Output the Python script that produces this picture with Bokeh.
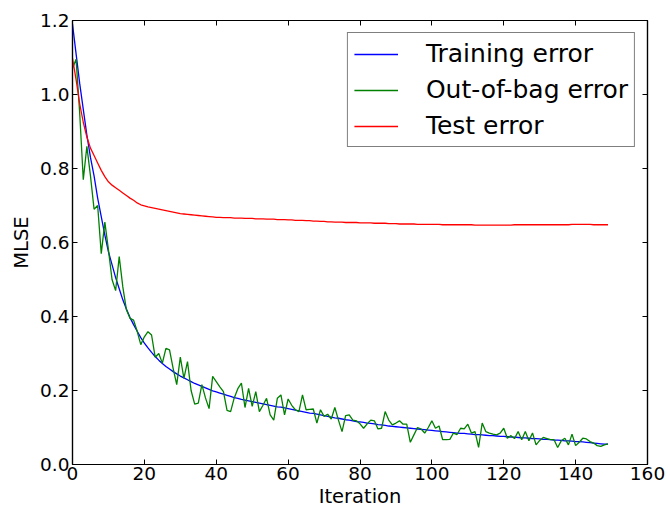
from bokeh.plotting import figure
from bokeh.models import LinearAxis, FixedTicker, Legend, LegendItem, CustomJSTickFormatter
from bokeh.embed import file_html
from bokeh.resources import INLINE

iterations = list(range(150))

training_error = [
    1.19, 1.11, 1.03, 0.96, 0.89, 0.83, 0.78, 0.72, 0.67, 0.62,
    0.575, 0.54, 0.505, 0.475, 0.445, 0.42, 0.397, 0.378, 0.36, 0.343,
    0.328, 0.315, 0.303, 0.292, 0.282, 0.273, 0.265, 0.258, 0.251, 0.245,
    0.239, 0.234, 0.229, 0.224, 0.219, 0.215, 0.211, 0.207, 0.203, 0.199,
    0.196, 0.193, 0.190, 0.187, 0.184, 0.181, 0.179, 0.176, 0.174, 0.172,
    0.170, 0.168, 0.166, 0.164, 0.162, 0.160, 0.158, 0.156, 0.155, 0.153,
    0.151, 0.149, 0.147, 0.145, 0.143, 0.141, 0.139, 0.138, 0.136, 0.134,
    0.132, 0.130, 0.128, 0.126, 0.125, 0.123, 0.121, 0.120, 0.118, 0.116,
    0.115, 0.114, 0.112, 0.111, 0.110, 0.108, 0.107, 0.106, 0.104, 0.103,
    0.102, 0.101, 0.100, 0.099, 0.098, 0.097, 0.096, 0.095, 0.094, 0.093,
    0.092, 0.091, 0.090, 0.089, 0.088, 0.087, 0.086, 0.085, 0.084, 0.084,
    0.083, 0.082, 0.081, 0.081, 0.080, 0.079, 0.078, 0.078, 0.077, 0.076,
    0.076, 0.075, 0.074, 0.074, 0.073, 0.072, 0.072, 0.071, 0.070, 0.070,
    0.069, 0.068, 0.068, 0.067, 0.066, 0.066, 0.065, 0.064, 0.064, 0.063,
    0.062, 0.062, 0.061, 0.060, 0.059, 0.058, 0.057, 0.056, 0.055, 0.055,
]

oob_error = [
    1.07, 1.095, 0.95, 0.77, 0.86, 0.78, 0.69, 0.70, 0.57, 0.655,
    0.58, 0.50, 0.47, 0.562, 0.48, 0.418, 0.395, 0.39, 0.36, 0.324,
    0.345, 0.359, 0.35, 0.29, 0.30, 0.274, 0.314, 0.31, 0.26, 0.216,
    0.29, 0.233, 0.278, 0.20, 0.163, 0.166, 0.216, 0.18, 0.151, 0.238,
    0.224, 0.21, 0.197, 0.146, 0.143, 0.18, 0.205, 0.22, 0.154, 0.206,
    0.157, 0.197, 0.143, 0.16, 0.179, 0.134, 0.12, 0.179, 0.188, 0.134,
    0.177, 0.16, 0.148, 0.143, 0.188, 0.148, 0.149, 0.15, 0.112, 0.148,
    0.13, 0.136, 0.123, 0.154, 0.12, 0.089, 0.132, 0.134, 0.12, 0.118,
    0.11, 0.098, 0.11, 0.12, 0.118, 0.096, 0.098, 0.143, 0.12, 0.107,
    0.112, 0.118, 0.109, 0.109, 0.06, 0.08, 0.1, 0.096, 0.085, 0.1,
    0.118, 0.098, 0.104, 0.067, 0.067, 0.068, 0.085, 0.081, 0.098, 0.096,
    0.109, 0.085, 0.089, 0.046, 0.112, 0.089, 0.085, 0.082, 0.08, 0.085,
    0.098, 0.071, 0.078, 0.07, 0.089, 0.067, 0.089, 0.064, 0.085, 0.053,
    0.065, 0.073, 0.07, 0.067, 0.067, 0.046, 0.064, 0.071, 0.053, 0.082,
    0.051, 0.06, 0.071, 0.069, 0.062, 0.058, 0.051, 0.049, 0.053, 0.056,
]

test_error = [
    1.098, 1.04, 0.975, 0.925, 0.885, 0.855, 0.835, 0.815, 0.795, 0.778,
    0.764, 0.755, 0.748, 0.741, 0.734, 0.727, 0.72, 0.714, 0.707, 0.702,
    0.699, 0.696, 0.694, 0.692, 0.690, 0.688, 0.686, 0.684, 0.682, 0.680,
    0.678, 0.677, 0.676, 0.675, 0.674, 0.673, 0.672, 0.671, 0.670, 0.669,
    0.668, 0.668, 0.667, 0.667, 0.667, 0.666, 0.666, 0.666, 0.665, 0.665,
    0.665, 0.664, 0.664, 0.664, 0.663, 0.663, 0.663, 0.662, 0.662, 0.662,
    0.661, 0.661, 0.660, 0.660, 0.660, 0.659, 0.659, 0.658, 0.658, 0.657,
    0.657, 0.656, 0.656, 0.655, 0.655, 0.655, 0.654, 0.654, 0.654, 0.654,
    0.653, 0.653, 0.653, 0.653, 0.652, 0.652, 0.652, 0.652, 0.651, 0.651,
    0.651, 0.650, 0.650, 0.650, 0.650, 0.650, 0.649, 0.649, 0.649, 0.649,
    0.649, 0.649, 0.649, 0.648, 0.648, 0.648, 0.648, 0.648, 0.648, 0.648,
    0.648, 0.648, 0.647, 0.647, 0.647, 0.647, 0.647, 0.647, 0.647, 0.647,
    0.647, 0.647, 0.647, 0.648, 0.648, 0.648, 0.648, 0.648, 0.648, 0.648,
    0.648, 0.648, 0.648, 0.648, 0.648, 0.648, 0.648, 0.648, 0.648, 0.649,
    0.649, 0.649, 0.649, 0.649, 0.649, 0.648, 0.648, 0.648, 0.648, 0.648,
]

x_ticks = [0, 20, 40, 60, 80, 100, 120, 140, 160]
y_ticks = [0.0, 0.2, 0.4, 0.6, 0.8, 1.0, 1.2]
series_names = ["Training error", "Out-of-bag error", "Test error"]
series_colors = ["#0000ff", "#008000", "#ff0000"]

FONT = "DejaVu Sans"

p = figure(
    frame_width=575, frame_height=444,
    min_border_left=72, min_border_right=23, min_border_top=20, min_border_bottom=44,
    x_range=(0, 160), y_range=(0, 1.2),
    output_backend="svg", toolbar_location=None,
    x_axis_label="Iteration", y_axis_label="MLSE",
)
p.xgrid.grid_line_color = None
p.ygrid.grid_line_color = None
p.outline_line_color = "black"
p.outline_line_width = 1.2
p.background_fill_color = "white"
p.border_fill_color = "white"

renderers = []
for ys, color in zip([training_error, oob_error, test_error], series_colors):
    r = p.line(iterations, ys, line_color=color, line_width=1.3)
    renderers.append(r)

def style_axis(ax, ticks, show_labels=True):
    ax.ticker = FixedTicker(ticks=ticks)
    ax.major_tick_in = 5
    ax.major_tick_out = 0
    ax.minor_tick_line_color = None
    ax.major_tick_line_color = "black"
    ax.major_tick_line_width = 1
    ax.axis_line_color = "black"
    ax.axis_line_width = 1.2
    ax.major_label_text_font = FONT
    ax.axis_label_text_font = FONT
    ax.axis_label_text_font_style = "normal"
    ax.axis_label_text_color = "black"
    ax.major_label_text_color = "black"
    if show_labels:
        ax.major_label_text_font_size = "18.5px"
        ax.axis_label_text_font_size = "19.5px"
        ax.major_label_standoff = 3
        ax.axis_label_standoff = 4
    else:
        ax.formatter = CustomJSTickFormatter(code="return '';")
        ax.major_label_text_font_size = "1px"
        ax.major_label_standoff = 0

style_axis(p.xaxis[0], x_ticks)
style_axis(p.yaxis[0], y_ticks)
p.xaxis[0].major_label_standoff = 2
p.xaxis[0].axis_label_standoff = 2
p.yaxis[0].major_label_overrides = {t: f"{t:.1f}" for t in y_ticks}

top_axis = LinearAxis()
style_axis(top_axis, x_ticks, show_labels=False)
p.add_layout(top_axis, "above")
right_axis = LinearAxis()
style_axis(right_axis, y_ticks, show_labels=False)
p.add_layout(right_axis, "right")

legend = Legend(
    items=[LegendItem(label=n, renderers=[r]) for n, r in zip(series_names, renderers)],
    location="top_right",
    margin=12,
    padding=6,
    spacing=7,
    glyph_width=44,
    glyph_height=28,
    label_height=28,
    label_standoff=28,
    label_text_font=FONT,
    label_text_font_size="25px",
    label_text_color="black",
    border_line_color="black",
    border_line_width=1,
    background_fill_color="white",
    background_fill_alpha=1,
)
p.add_layout(legend, "center")

open("out.html", "w").write(file_html(p, INLINE))
